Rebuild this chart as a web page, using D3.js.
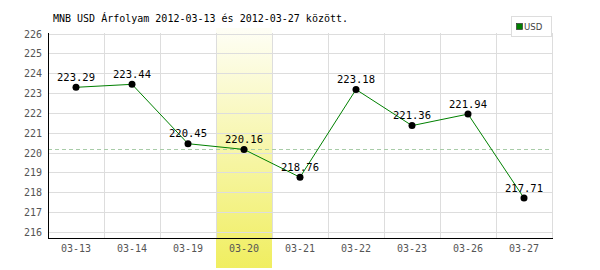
<!DOCTYPE html>
<html><head><meta charset="utf-8">
<script src="https://cdn.jsdelivr.net/npm/d3@7"></script>
<style>body{margin:0;background:#fff}svg{display:block}</style>
</head><body>
<svg id="c" width="600" height="270"></svg>
<script>
const categories = ["03-13","03-14","03-19","03-20","03-21","03-22","03-23","03-26","03-27"];
const values = [223.29,223.44,220.45,220.16,218.76,223.18,221.36,221.94,217.71];
const yTicks = [216,217,218,219,220,221,222,223,224,225,226];
const highlightCat = "03-20";
const refValue = 220.16;
const title = "MNB USD Árfolyam 2012-03-13 és 2012-03-27 között.";
const seriesName = "USD";

const svg = d3.select("#c");
const font = "'DejaVu Sans Mono', monospace";
const L = 48, R = 552, T = 33, B = 238;
const x = d3.scaleBand().domain(categories).range([L, R]);
const y = d3.scaleLinear().domain([215.7, 226]).range([B, T + 0.5]);

const defs = svg.append("defs");
const g = defs.append("linearGradient").attr("id","hl").attr("x1",0).attr("y1",0).attr("x2",0).attr("y2",1);
g.append("stop").attr("offset","0%").attr("stop-color","#fefef6");
g.append("stop").attr("offset","100%").attr("stop-color","#f0ee60");

svg.append("rect").attr("x", x(highlightCat)).attr("y", 28)
  .attr("width", x.bandwidth()).attr("height", 268 - 28).attr("fill","url(#hl)");

// horizontal grid
svg.append("g").selectAll("line").data(yTicks).join("line")
  .attr("x1", L).attr("x2", R)
  .attr("y1", d => Math.round(y(d)) + 0.5).attr("y2", d => Math.round(y(d)) + 0.5)
  .attr("stroke", "#dddddd").attr("stroke-width", 1);
// vertical grid
const vx = categories.map(c => x(c) + x.bandwidth());
svg.append("g").selectAll("line").data(vx).join("line")
  .attr("x1", d => Math.round(d) + 0.5).attr("x2", d => Math.round(d) + 0.5)
  .attr("y1", T).attr("y2", B)
  .attr("stroke", "#dddddd").attr("stroke-width", 1);

// reference dashed line
svg.append("line").attr("x1", L).attr("x2", R)
  .attr("y1", Math.round(y(refValue)) + 0.5).attr("y2", Math.round(y(refValue)) + 0.5)
  .attr("stroke", "#a8cca8").attr("stroke-dasharray", "4,3");

// axes lines
svg.append("line").attr("x1", L + 0.5).attr("x2", L + 0.5).attr("y1", T).attr("y2", B + 0.5)
  .attr("stroke", "#000");
svg.append("line").attr("x1", L).attr("x2", R + 1).attr("y1", B + 0.5).attr("y2", B + 0.5)
  .attr("stroke", "#000");

// y labels
svg.append("g").selectAll("text").data(yTicks).join("text")
  .attr("x", 42).attr("y", d => y(d) + 4)
  .attr("text-anchor", "end").attr("font-family", font).attr("font-size", 10)
  .attr("fill", "#555").text(d => d);
// x labels
svg.append("g").selectAll("text").data(categories).join("text")
  .attr("x", d => x(d) + x.bandwidth() / 2).attr("y", 252)
  .attr("text-anchor", "middle").attr("font-family", font).attr("font-size", 10)
  .attr("fill", "#555").text(d => d);

// line
const cx = (d, i) => x(categories[i]) + x.bandwidth() / 2;
const line = d3.line().x((d, i) => cx(d, i)).y(d => y(d));
svg.append("path").datum(values).attr("d", line)
  .attr("fill", "none").attr("stroke", "#008000").attr("stroke-width", 1);
svg.append("g").selectAll("circle").data(values).join("circle")
  .attr("cx", cx).attr("cy", d => y(d)).attr("r", 3.5).attr("fill", "#000");
svg.append("g").selectAll("text").data(values).join("text")
  .attr("x", cx).attr("y", d => y(d) - 6.5)
  .attr("text-anchor", "middle").attr("font-family", font).attr("font-size", 10.5)
  .attr("fill", "#000").text(d => d.toFixed(2));

// title
svg.append("text").attr("x", 53).attr("y", 22).attr("font-family", font)
  .attr("font-size", 10).attr("fill", "#000").text(title);

// legend
svg.append("rect").attr("x", 511.5).attr("y", 16.5).attr("width", 40).attr("height", 20)
  .attr("fill", "#fff").attr("stroke", "#dddddd");
svg.append("rect").attr("x", 516.5).attr("y", 23.5).attr("width", 6).attr("height", 6)
  .attr("fill", "#008000").attr("stroke", "#333").attr("stroke-width", 0.7);
svg.append("text").attr("x", 524).attr("y", 30).attr("font-family", "'DejaVu Sans Condensed', 'DejaVu Sans', sans-serif")
  .attr("font-size", 9.5).attr("fill", "#444").text(seriesName);
</script>
</body></html>
